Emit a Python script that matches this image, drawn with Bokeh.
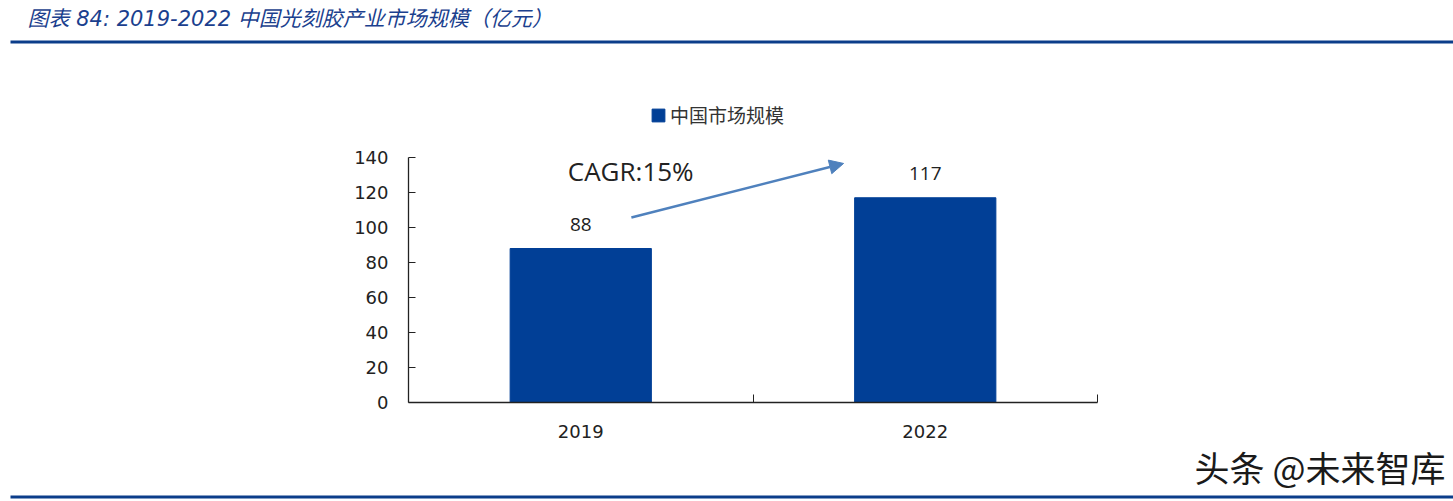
from bokeh.plotting import figure
from bokeh.models import (Range1d, FixedTicker, Label, Arrow, NormalHead, Legend,
                          LegendItem, BoxAnnotation, ColumnDataSource)
from bokeh.embed import file_html
from bokeh.resources import INLINE

# ---- data ----
years = ["2019", "2022"]
market_size = [88, 117]
series_name = "中国市场规模"
y_ticks = [0, 20, 40, 60, 80, 100, 120, 140]
title_text = "图表 84:  2019-2022 中国光刻胶产业市场规模（亿元）"
cagr_text = "CAGR:15%"
watermark_text = "头条 @未来智库"

BLUE = "#013f96"
RULE = "#0b3d8a"
TXT = "#222222"
W = 1453

# ---- header ----
hdr = figure(width=W, height=50, output_backend="svg", toolbar_location=None,
             x_range=Range1d(0, W), y_range=Range1d(0, 50),
             min_border=0, outline_line_color=None)
hdr.axis.visible = False
hdr.grid.visible = False
hdr.add_layout(Label(x=27, y=32, text=title_text, text_font="DejaVu Sans, Noto Sans CJK SC",
                     text_font_size="21px", text_font_style="italic", text_color="#1b3f8e",
                     text_baseline="middle", text_align="left"))
hdr.add_layout(BoxAnnotation(left=10, right=W, bottom=7, top=10, fill_color=RULE,
                             fill_alpha=1, line_color=None))

# ---- main chart ----
xs = [i + 0.5 for i in range(len(years))]
src = ColumnDataSource(dict(x=xs, top=market_size, lab=[str(v) for v in market_size]))

frame_px, axis_px = 302, 245
p = figure(width=W, height=390, output_backend="svg", toolbar_location=None,
           x_range=Range1d(0, len(years)),
           y_range=Range1d(y_ticks[0], y_ticks[-1] * frame_px / axis_px),
           min_border_left=408, min_border_right=356, min_border_top=50, min_border_bottom=38,
           outline_line_color=None)
p.grid.visible = False

bars = p.vbar(x="x", top="top", width=0.41, source=src, fill_color=BLUE, line_color=BLUE)
p.text(x="x", y="top", text="lab", source=src, y_offset=-18, text_align="center",
       text_baseline="bottom", text_font_size="19px", text_color=TXT,
       text_font={"value": "Open Sans"})

xa = p.xaxis[0]
xa.ticker = FixedTicker(ticks=xs, minor_ticks=[i + 1 for i in range(len(years))])
xa.major_label_overrides = {x: y for x, y in zip(xs, years)}
xa.major_tick_line_color = None
xa.minor_tick_in = 8
xa.minor_tick_out = 0
xa.minor_tick_line_color = TXT
xa.axis_line_color = TXT
xa.axis_line_width = 1.3
xa.major_label_standoff = 16
xa.major_label_text_font = "DejaVu Sans"
xa.major_label_text_font_size = "18px"
xa.major_label_text_color = TXT

ya = p.yaxis[0]
ya.ticker = FixedTicker(ticks=y_ticks)
ya.bounds = (y_ticks[0], y_ticks[-1])
ya.major_tick_in = 7
ya.major_tick_out = 0
ya.minor_tick_line_color = None
ya.major_tick_line_color = TXT
ya.axis_line_color = TXT
ya.axis_line_width = 1.3
ya.major_label_standoff = 20
ya.major_label_text_font = "DejaVu Sans"
ya.major_label_text_font_size = "18px"
ya.major_label_text_color = TXT

p.add_layout(Arrow(end=NormalHead(size=14, fill_color="#4f81bd", line_color="#4f81bd"),
                   x_start=0.647, y_start=105.7, x_end=1.263, y_end=136.6,
                   line_color="#4f81bd", line_width=2.5))
p.add_layout(Label(x=0.645, y=132.5, text=cagr_text, text_font="Open Sans",
                   text_font_size="26px", text_color=TXT, text_align="center",
                   text_baseline="middle"))

legend = Legend(items=[LegendItem(label=series_name, renderers=[bars])],
                location=(242, 274), orientation="horizontal",
                glyph_width=16, glyph_height=16, label_standoff=4,
                label_text_font="Noto Sans CJK SC", label_text_font_size="19px",
                label_text_color="#333333", border_line_color=None,
                background_fill_alpha=0, padding=0, margin=0, spacing=0)
p.add_layout(legend)

# ---- footer ----
ftr = figure(width=W, height=61, output_backend="svg", toolbar_location=None,
             x_range=Range1d(0, W), y_range=Range1d(0, 61),
             min_border=0, outline_line_color=None)
ftr.axis.visible = False
ftr.grid.visible = False
ftr.add_layout(Label(x=1445, y=35, text=watermark_text, text_font="Noto Sans CJK SC",
                     text_font_size="35px", text_color="#1a1a1a",
                     text_align="right", text_baseline="middle"))
ftr.add_layout(BoxAnnotation(left=10, right=W, bottom=3, top=6, fill_color=RULE,
                             fill_alpha=1, line_color=None))

open("out.html", "w").write(file_html([hdr, p, ftr], INLINE))
